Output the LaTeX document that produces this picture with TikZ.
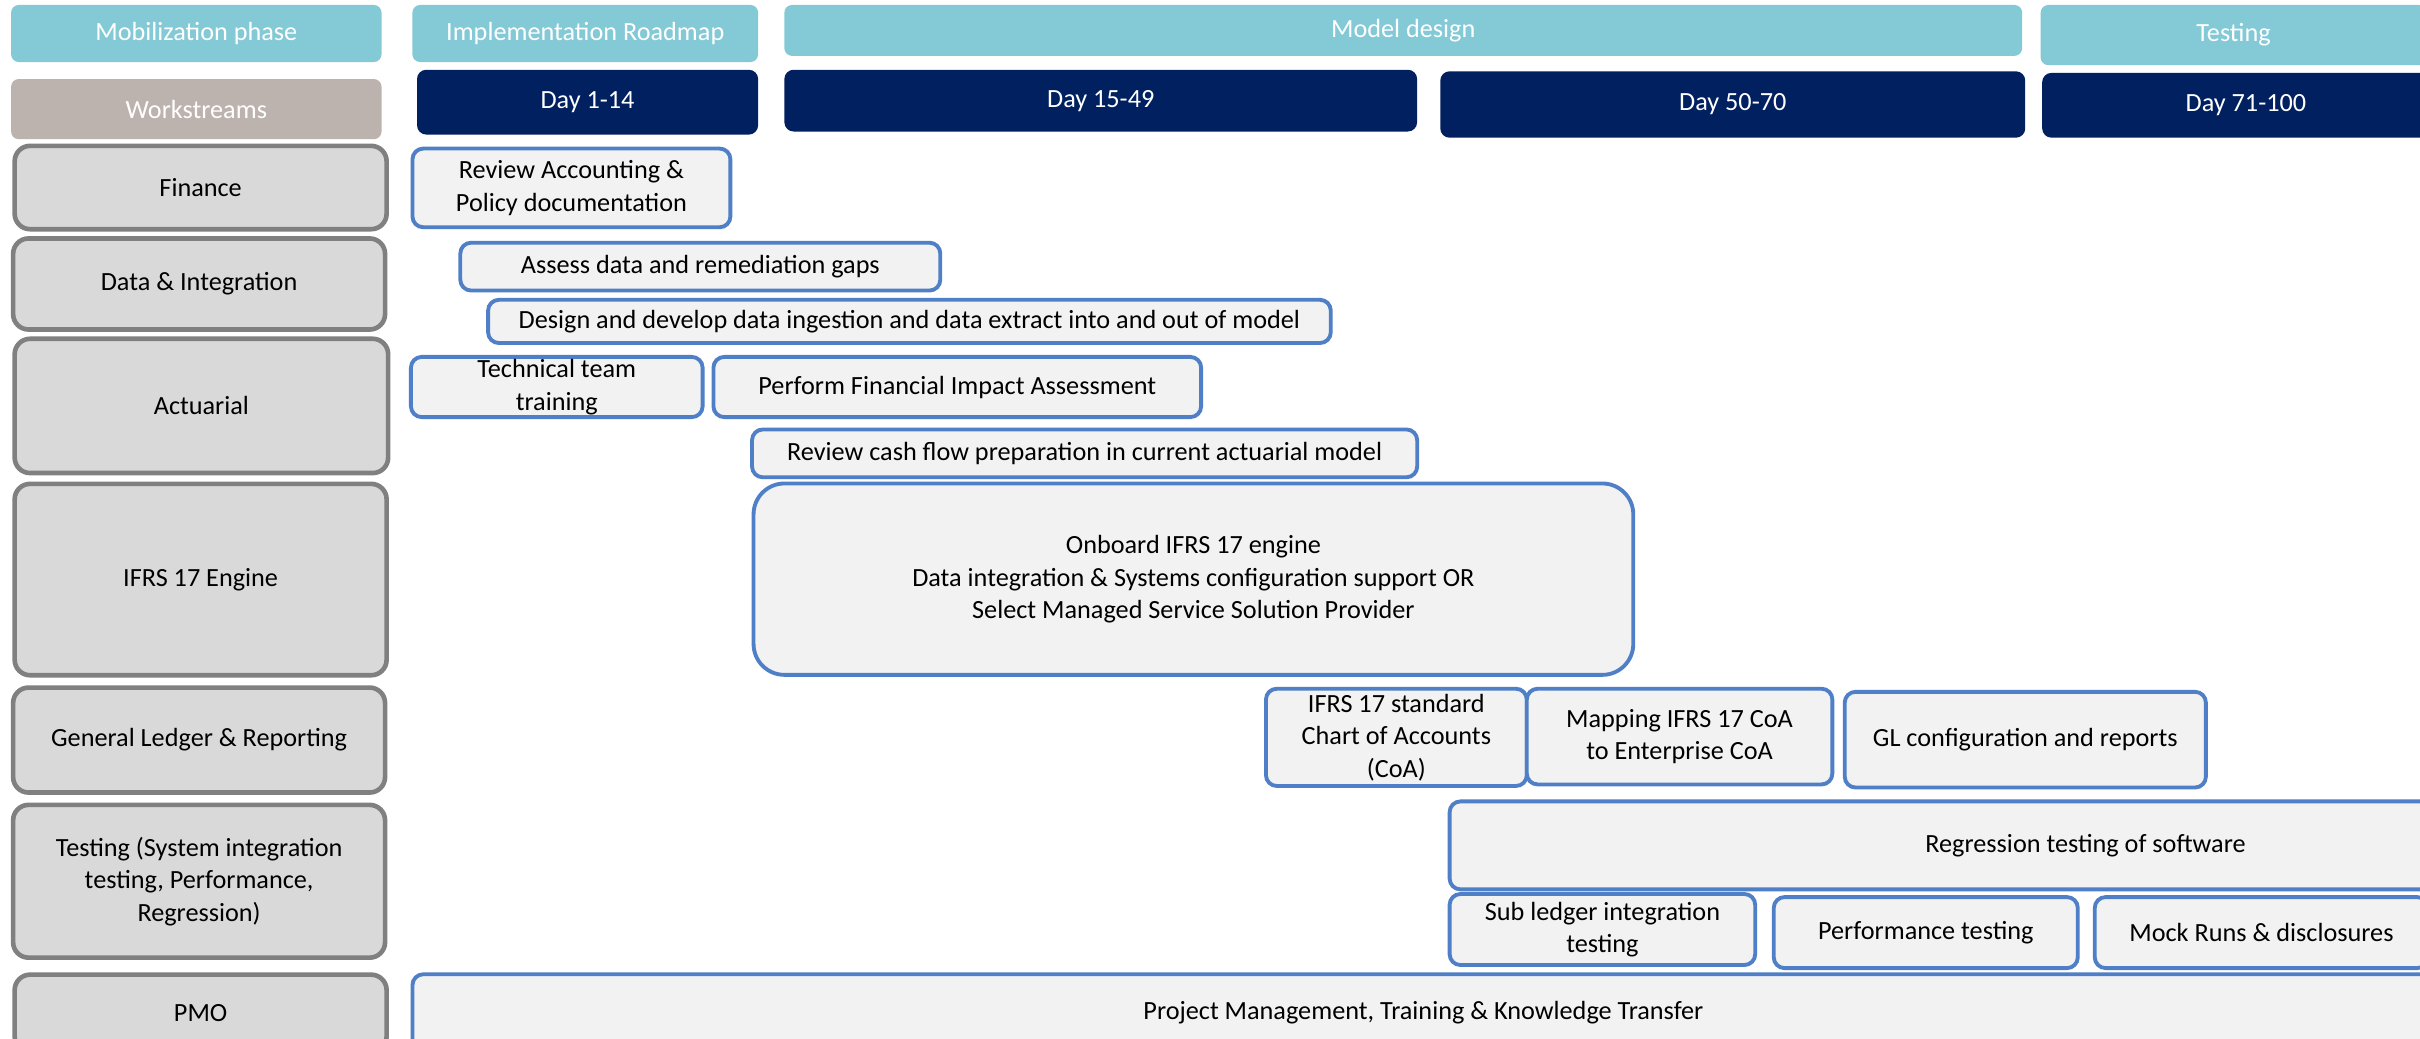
\documentclass[tikz,border=0pt]{standalone}
\usepackage{fontspec}
\setmainfont{Carlito}
\usepackage{tikz}
\definecolor{phasecol}{HTML}{84C9D6}
\definecolor{headcol}{HTML}{BCB2AE}
\definecolor{daycol}{HTML}{002060}
\definecolor{streamfill}{HTML}{D9D9D9}
\definecolor{streamline}{HTML}{808080}
\definecolor{taskfill}{HTML}{F2F2F2}
\definecolor{taskline}{HTML}{4F7FC6}
\tikzstyle{box}=[anchor=north west, inner sep=1pt, align=center,
font=\fontsize{17}{21}\selectfont]
\tikzstyle{phasebox}=[box, fill=phasecol, text=white, rounded corners=5pt]
\tikzstyle{daybox}=[box, fill=daycol, text=white, rounded corners=6pt]
\tikzstyle{streambox}=[box, fill=streamfill, draw=streamline,
line width=3pt, rounded corners=10pt]
\tikzstyle{taskbox}=[box, fill=taskfill, draw=taskline, line width=2.5pt,
rounded corners=7pt]

\begin{document}
\begin{tikzpicture}[x=1pt, y=-1pt]
	\clip (0,0) rectangle (1568,673);
	\fill[white] (0,0) rectangle (1568,673);

	\node[phasebox, minimum width=240pt, minimum height=37pt] (mob) at (7,3) {Mobilization phase};
	\node[phasebox, minimum width=224pt, minimum height=37pt] (impl) at (267,3) {Implementation Roadmap};
	\node[phasebox, minimum width=802pt, minimum height=33pt] (model) at (508,3) {Model design};
	\node[phasebox, minimum width=250pt, minimum height=39pt] (test) at (1322,3) {Testing};

	\node[box, fill=headcol, text=white, rounded corners=5pt, minimum width=240pt, minimum height=39pt] (ws) at (7,51) {Workstreams};
	\node[daybox, minimum width=221pt, minimum height=42pt] (day1) at (270,45) {Day 1-14};
	\node[daybox, minimum width=410pt, minimum height=40pt] (day2) at (508,45) {Day 15-49};
	\node[daybox, minimum width=379pt, minimum height=43pt] (day3) at (933,46) {Day 50-70};
	\node[daybox, minimum width=264pt, minimum height=42pt] (day4) at (1323,47) {Day 71-100};

	\node[streambox, minimum width=241pt, minimum height=54pt] (fin) at (8,93) {Finance};
	\node[streambox, minimum width=241pt, minimum height=59pt] (data) at (7,153) {Data \& Integration};
	\node[streambox, minimum width=242pt, minimum height=87pt] (act) at (8,218) {Actuarial};
	\node[streambox, minimum width=241pt, minimum height=124pt] (eng) at (8,312) {IFRS 17 Engine};
	\node[streambox, minimum width=241pt, minimum height=68pt] (gl) at (7,444) {General Ledger \& Reporting};
	\node[streambox, minimum width=241pt, minimum height=99pt] (tst) at (7,520) {Testing (System integration\\testing, Performance,\\Regression)};
	\node[streambox, minimum width=241pt, minimum height=50pt] (pmo) at (8,630) {PMO};

	\node[taskbox, minimum width=206pt, minimum height=51pt] (acc) at (266,95) {Review Accounting \&\\Policy documentation};
	\node[taskbox, minimum width=311pt, minimum height=31pt] (gaps) at (297,156) {Assess data and remediation gaps};
	\node[taskbox, minimum width=546pt, minimum height=28pt] (ingest) at (315,193) {Design and develop data ingestion and data extract into and out of model};
	\node[taskbox, minimum width=189pt, minimum height=39pt] (train) at (265,230) {Technical team\\training};
	\node[taskbox, minimum width=316pt, minimum height=39pt] (impact) at (461,230) {Perform Financial Impact Assessment};
	\node[taskbox, minimum width=431pt, minimum height=31pt] (cash) at (486,277) {Review cash flow preparation in current actuarial model};
	\node[taskbox, rounded corners=20pt, minimum width=570pt, minimum height=124pt] (onboard) at (487,312) {Onboard IFRS 17 engine\\Data integration \& Systems configuration support OR\\Select Managed Service Solution Provider};
	\node[taskbox, minimum width=169pt, minimum height=63pt] (coa) at (819,445) {IFRS 17 standard\\Chart of Accounts\\(CoA)};
	\node[taskbox, minimum width=198pt, minimum height=62pt] (map) at (988,445) {Mapping IFRS 17 CoA\\to Enterprise CoA};
	\node[taskbox, minimum width=234pt, minimum height=62pt] (glconf) at (1194,447) {GL configuration and reports};
	\node[taskbox, minimum width=824pt, minimum height=57pt] (regr) at (938,518) {Regression testing of software};
	\node[taskbox, minimum width=198pt, minimum height=46pt] (sub) at (938,578) {Sub ledger integration\\testing};
	\node[taskbox, minimum width=197pt, minimum height=46pt] (perf) at (1148,580) {Performance testing};
	\node[taskbox, minimum width=216pt, minimum height=46pt] (mock) at (1356,580) {Mock Runs \& disclosures};
	\node[taskbox, minimum width=1310pt, minimum height=50pt] (pm) at (266,630) {Project Management, Training \& Knowledge Transfer};
\end{tikzpicture}
\end{document}
